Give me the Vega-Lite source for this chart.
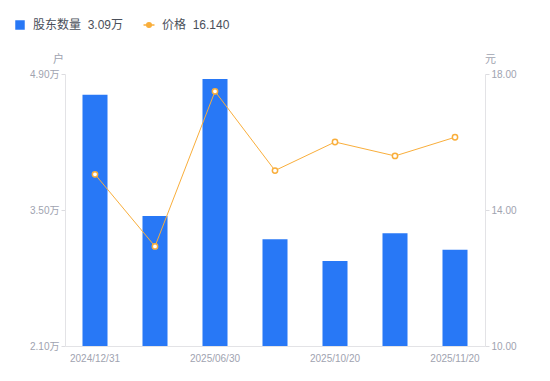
{
  "$schema": "https://vega.github.io/schema/vega-lite/v6.json",
  "autosize": {"type": "none"},
  "width": 420,
  "height": 272,
  "padding": {"left": 65, "top": 74, "right": 65, "bottom": 35},
  "config": {
    "view": {"stroke": null},
    "font": "Liberation Sans, Noto Sans CJK SC, sans-serif",
    "axis": {
      "labelFont": "Liberation Sans, Noto Sans CJK SC, sans-serif",
      "labelColor": "#a0a3b0",
      "labelFontSize": 10,
      "domainColor": "#e3e3e6",
      "tickColor": "#dcdce0",
      "grid": false,
      "titleFont": "Noto Sans CJK SC, sans-serif",
      "titleFontWeight": "normal",
      "titleColor": "#a0a3b0",
      "titleFontSize": 11
    }
  },
  "data": {
    "values": [
      {"date": "2024/12/31", "holders": 46870, "price": 15.05},
      {"date": "2025/03/31", "holders": 34380, "price": 12.93},
      {"date": "2025/06/30", "holders": 48490, "price": 17.49},
      {"date": "2025/09/30", "holders": 31980, "price": 15.16},
      {"date": "2025/10/20", "holders": 29750, "price": 16.0},
      {"date": "2025/10/31", "holders": 32600, "price": 15.59},
      {"date": "2025/11/20", "holders": 30900, "price": 16.14}
    ]
  },
  "encoding": {
    "x": {
      "field": "date",
      "type": "ordinal",
      "sort": null,
      "scale": {"paddingInner": 0.583, "paddingOuter": 0.2915},
      "axis": {
        "title": null,
        "labelAngle": 0,
        "ticks": false,
        "labelPadding": 7,
        "values": ["2024/12/31", "2025/06/30", "2025/10/20", "2025/11/20"]
      }
    }
  },
  "layer": [
    {
      "mark": {"type": "bar", "color": "#2878f6"},
      "encoding": {
        "y": {
          "field": "holders",
          "type": "quantitative",
          "scale": {"domain": [21000, 49000], "zero": false, "nice": false},
          "axis": {
            "title": "户",
            "titleAngle": 0,
            "titleX": -7,
            "titleY": -10,
            "titleAlign": "center",
            "titleBaseline": "bottom",
            "values": [21000, 35000, 49000],
            "labelExpr": "format(datum.value / 10000, '.2f') + '万'",
            "tickSize": 4,
            "labelPadding": 2
          }
        },
        "y2": {"datum": 21000},
        "color": {
          "datum": "股东数量",
          "scale": {"domain": ["股东数量", "价格"], "range": ["#2878f6", "#f9ae3b"]},
          "legend": {
            "title": null,
            "orient": "none",
            "legendX": -51,
            "legendY": -55,
            "direction": "horizontal",
            "columns": 2,
            "columnPadding": 16,
            "labelFontSize": 12,
            "labelColor": "#4a4f5a",
            "labelFont": "Liberation Sans, Noto Sans CJK SC, sans-serif",
            "symbolSize": 100,
            "labelOffset": 7,
            "labelExpr": "datum.label === '股东数量' ? '股东数量\u00a0\u00a03.09万' : '价格\u00a0\u00a016.140'",
            "encode": {
              "symbols": {
                "update": {
                  "shape": {"signal": "datum.value === '价格' ? 'M-1,0L-0.42,0M0.42,0L1,0M0.42,0A0.42,0.42,0,1,1,-0.42,0A0.42,0.42,0,1,1,0.42,0' : 'square'"},
                  "fill": {"signal": "datum.value === '价格' ? '#ffffff' : '#2878f6'"},
                  "stroke": {"signal": "datum.value === '价格' ? '#f9ae3b' : '#2878f6'"},
                  "strokeWidth": {"signal": "datum.value === '价格' ? 1.5 : 0"},
                  "size": {"signal": "datum.value === '价格' ? 120 : 90"},
                  "opacity": {"value": 1}
                }
              }
            }
          }
        }
      }
    },
    {
      "mark": {"type": "line", "color": "#f9ae3b", "strokeWidth": 1},
      "encoding": {
        "y": {
          "field": "price",
          "type": "quantitative",
          "scale": {"domain": [10, 18], "zero": false, "nice": false},
          "axis": {
            "title": "元",
            "orient": "right",
            "titleAngle": 0,
            "titleX": 5,
            "titleY": -10,
            "titleAlign": "center",
            "titleBaseline": "bottom",
            "values": [10, 14, 18],
            "format": ".2f",
            "tickSize": 4,
            "labelPadding": 2
          }
        },
        "color": {"datum": "价格"}
      }
    },
    {
      "mark": {"type": "point", "filled": false, "fill": "#ffffff", "stroke": "#f9ae3b", "strokeWidth": 1.5, "size": 28, "opacity": 1},
      "encoding": {
        "y": {"field": "price", "type": "quantitative", "scale": {"domain": [10, 18], "zero": false, "nice": false}, "axis": null}
      }
    }
  ],
  "resolve": {"scale": {"y": "independent"}}
}
